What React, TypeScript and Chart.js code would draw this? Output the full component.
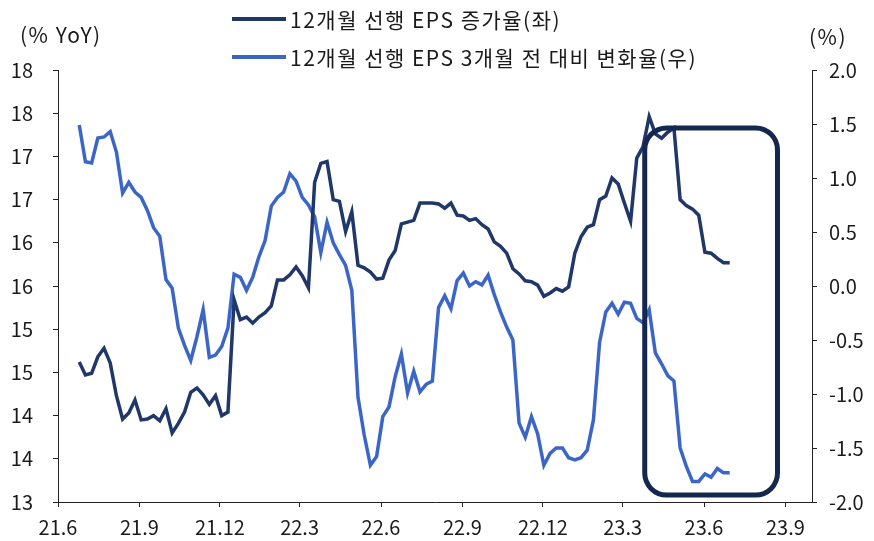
import React, { useEffect, useRef } from "react";
import { Chart, registerables } from "chart.js";

Chart.register(...registerables);

// ---- data ----
const SERIES_NAMES = ["12개월 선행 EPS 증가율(좌)", "12개월 선행 EPS 3개월 전 대비 변화율(우)"];
const LEFT_TITLE = "(% YoY)";
const RIGHT_TITLE = "(%)";

// weekly observations (Fridays), first one
const FIRST_WEEK = "2021-06-25";

// 12M forward EPS growth (% YoY, left axis)
const epsGrowth = [
  14.62, 14.47, 14.49, 14.68, 14.78, 14.61, 14.23, 13.96, 14.03, 14.18,
  13.95, 13.96, 14.0, 13.94, 14.08, 13.8, 13.91, 14.04, 14.27, 14.32,
  14.24, 14.13, 14.23, 14.0, 14.04, 15.34, 15.11, 15.14, 15.07, 15.14,
  15.19, 15.27, 15.57, 15.57, 15.63, 15.72, 15.62, 15.48, 16.7, 16.92,
  16.94, 16.5, 16.48, 16.13, 16.36, 15.74, 15.71, 15.66, 15.58, 15.59,
  15.8, 15.91, 16.22, 16.24, 16.26, 16.46, 16.46, 16.46, 16.45, 16.4,
  16.46, 16.32, 16.31, 16.26, 16.28, 16.21, 16.16, 16.01, 15.96, 15.88,
  15.7, 15.64, 15.56, 15.55, 15.51, 15.38, 15.42, 15.47, 15.44, 15.49,
  15.88, 16.07, 16.18, 16.21, 16.5, 16.54, 16.75, 16.68, 16.46, 16.25,
  16.98, 17.11, 17.46, 17.26, 17.21, 17.28, 17.33, 16.5, 16.43, 16.39,
  16.32, 15.89, 15.88, 15.82, 15.77, 15.77,
];

// 12M forward EPS change vs 3 months ago (%, right axis)
const epsChange3m = [
  1.49, 1.15, 1.14, 1.37, 1.38, 1.43, 1.24, 0.86, 0.96, 0.87,
  0.82, 0.7, 0.54, 0.46, 0.06, -0.02, -0.39, -0.55, -0.69, -0.47,
  -0.22, -0.66, -0.64, -0.56, -0.39, 0.11, 0.08, -0.04, 0.08, 0.27,
  0.42, 0.74, 0.82, 0.87, 1.04, 0.97, 0.82, 0.75, 0.64, 0.31,
  0.59, 0.4, 0.29, 0.19, -0.04, -1.03, -1.38, -1.66, -1.58, -1.21,
  -1.12, -0.84, -0.63, -0.99, -0.79, -0.98, -0.91, -0.88, -0.2, -0.09,
  -0.21, 0.05, 0.12, 0.0, 0.04, 0.01, 0.1, -0.08, -0.24, -0.38,
  -0.5, -1.27, -1.4, -1.21, -1.37, -1.66, -1.55, -1.5, -1.5, -1.59,
  -1.61, -1.59, -1.52, -1.24, -0.52, -0.24, -0.16, -0.26, -0.15, -0.16,
  -0.3, -0.34, -0.22, -0.62, -0.72, -0.83, -0.88, -1.5, -1.67, -1.81,
  -1.81, -1.74, -1.77, -1.69, -1.73, -1.73,
];

// x axis
const AXIS_START = "2021-06-01";
const AXIS_END = "2023-10-01";
const tickDates = [
  "2021-06-01", "2021-09-01", "2021-12-01", "2022-03-01", "2022-06-01",
  "2022-09-01", "2022-12-01", "2023-03-01", "2023-06-01", "2023-09-01",
];
const tickLabels = ["21.6", "21.9", "21.12", "22.3", "22.6", "22.9", "22.12", "23.3", "23.6", "23.9"];

// highlight box (in data units: dates / left-axis values)
const BOX_FROM = "2023-03-26";
const BOX_TO = "2023-08-23";
const BOX_TOP = 17.33;
const BOX_BOTTOM = 13.08;

// ---- styles ----
const DARK = "#1f3769";
const LIGHT = "#3b66c8";
const BOX_COLOR = "#14284f";
const TEXT = "#1a1a1a";
const FONT = "'Noto Sans CJK KR', 'Noto Sans', sans-serif";

const DAY = 86400000;
const parse = (s: string) => {
  const [y, m, d] = s.split("-").map(Number);
  return Date.UTC(y, m - 1, d);
};
const dayOf = (s: string) => (parse(s) - parse(AXIS_START)) / DAY;
const firstDay = dayOf(FIRST_WEEK);
const weekX = epsGrowth.map((_, i) => firstDay + i * 7);

const overlayPlugin = {
  id: "overlay",
  afterDatasetsDraw(chart: any) {
    const { ctx, scales } = chart;
    const x = scales.x;
    const y = scales.y;
    const l = x.getPixelForValue(dayOf(BOX_FROM));
    const r = x.getPixelForValue(dayOf(BOX_TO));
    const t = y.getPixelForValue(BOX_TOP);
    const b = y.getPixelForValue(BOX_BOTTOM);
    ctx.save();
    ctx.lineWidth = 5;
    ctx.strokeStyle = BOX_COLOR;
    ctx.beginPath();
    ctx.roundRect(l, t, r - l, b - t, 22);
    ctx.stroke();
    ctx.restore();
  },
  afterDraw(chart: any) {
    const { ctx } = chart;
    ctx.save();
    ctx.font = `21px ${FONT}`;
    (ctx as any).letterSpacing = "1.5px";
    ctx.fillStyle = TEXT;
    ctx.textBaseline = "middle";
    ctx.textAlign = "left";
    ctx.fillText(LEFT_TITLE, 20, 35);
    ctx.fillText(RIGHT_TITLE, 809, 37);
    chart.data.datasets.forEach((ds: any, i: number) => {
      const yy = 19 + i * 38;
      ctx.strokeStyle = ds.borderColor;
      ctx.lineWidth = 4;
      ctx.beginPath();
      ctx.moveTo(232, yy);
      ctx.lineTo(286, yy);
      ctx.stroke();
      ctx.fillStyle = TEXT;
      ctx.fillText(ds.label, 290, yy + 1);
    });
    ctx.restore();
  },
};

export default function App() {
  const ref = useRef<HTMLCanvasElement | null>(null);
  useEffect(() => {
    if (!ref.current) return;
    Chart.defaults.font.family = FONT;
    Chart.defaults.font.size = 20;
    Chart.defaults.color = TEXT;
    const axisGrid = { display: true, drawOnChartArea: false, drawTicks: true, tickLength: 5, color: "#222" };
    const axisBorder = { display: true, color: "#222", width: 1 };
    const chart = new Chart(ref.current, {
      type: "line",
      data: {
        datasets: [
          {
            label: SERIES_NAMES[0],
            data: epsGrowth.map((v, i) => ({ x: weekX[i], y: v })),
            borderColor: DARK,
            backgroundColor: DARK,
            borderWidth: 3.5,
            pointRadius: 0,
            yAxisID: "y",
          },
          {
            label: SERIES_NAMES[1],
            data: epsChange3m.map((v, i) => ({ x: weekX[i], y: v })),
            borderColor: LIGHT,
            backgroundColor: LIGHT,
            borderWidth: 3.5,
            pointRadius: 0,
            yAxisID: "y1",
          },
        ],
      },
      options: {
        animation: false,
        responsive: false,
        maintainAspectRatio: false,
        layout: { padding: { top: 70, left: 0, right: 0, bottom: 0 } },
        plugins: { legend: { display: false }, tooltip: { enabled: false } },
        scales: {
          x: {
            type: "linear",
            min: 0,
            max: dayOf(AXIS_END),
            afterBuildTicks: (s: any) => {
              s.ticks = tickDates.map((d) => ({ value: dayOf(d) }));
            },
            afterFit: (s: any) => {
              s.height = 39;
            },
            grid: axisGrid,
            border: axisBorder,
            ticks: {
              padding: 8,
              maxRotation: 0,
              autoSkip: false,
              callback: (_v: any, i: number) => tickLabels[i],
            },
          },
          y: {
            position: "left",
            min: 13,
            max: 18,
            afterFit: (s: any) => {
              s.width = 58;
            },
            grid: axisGrid,
            border: axisBorder,
            ticks: {
              stepSize: 0.5,
              padding: 20,
              callback: (v: any) => String(Math.round(Number(v))),
            },
          },
          y1: {
            position: "right",
            min: -2,
            max: 2,
            afterFit: (s: any) => {
              s.width = 62;
            },
            grid: axisGrid,
            border: axisBorder,
            ticks: {
              stepSize: 0.5,
              padding: 12,
              callback: (v: any) => Number(v).toFixed(1),
            },
          },
        },
      },
      plugins: [overlayPlugin],
    } as any);
    return () => chart.destroy();
  }, []);
  return (
    <div style={{ position: "fixed", left: 0, top: 0, width: 874, height: 541, background: "#fff" }}>
      <canvas ref={ref} width={874} height={541} style={{ width: 874, height: 541 }} />
    </div>
  );
}
